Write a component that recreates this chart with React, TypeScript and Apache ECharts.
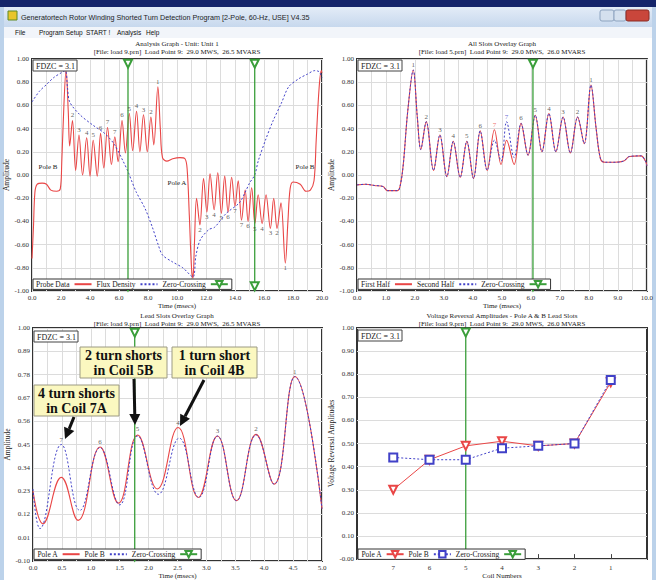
import React, { useEffect, useRef } from 'react';
import * as echarts from 'echarts';

const SERIF = '"Liberation Serif","Times New Roman",serif';
const SANS = '"Liberation Sans","Noto Sans",Arial,sans-serif';
const RED = '#e94646';
const BLUE = '#4141c8';
const GREEN = '#3a9e3a';
const GRIDC = '#dcdcdc';

// ---------- Top-left: Analysis Graph (time ms, amplitude) ----------
const tlProbeData: [number, number][] = [
  [0.0, -0.72], [0.1, -0.45], [0.2, -0.15], [0.35, -0.08], [0.7, -0.07], [1.0, -0.08], [1.3, -0.13],
  [1.7, -0.14], [1.95, -0.12], [2.05, 0.1], [2.2, 0.6], [2.35, 0.91], [2.5, 0.55], [2.6, 0.25],
  [2.79, 0.47], [3.01, 0.04], [3.24, 0.345], [3.49, 0.0], [3.77, 0.32], [4.0, -0.01], [4.22, 0.3],
  [4.5, -0.01], [4.73, 0.36], [4.95, 0.06], [5.21, 0.41], [5.48, 0.09], [5.71, 0.33], [5.94, 0.115],
  [6.21, 0.47], [6.44, 0.19], [6.71, 0.53], [6.94, 0.21], [7.21, 0.55], [7.44, 0.2], [7.69, 0.52],
  [7.95, 0.2], [8.2, 0.5], [8.4, 0.26], [8.68, 0.76], [8.85, 0.4], [9.0, 0.15], [9.3, 0.12],
  [9.7, 0.14], [10.2, 0.15], [10.55, 0.14], [10.7, 0.05], [10.85, -0.35], [11.0, -0.8], [11.1, -0.89],
  [11.2, -0.6], [11.35, -0.2], [11.58, -0.43], [11.83, -0.03], [12.06, -0.32], [12.28, 0.01],
  [12.56, -0.3], [12.81, 0.02], [13.06, -0.33], [13.29, -0.01], [13.52, -0.32], [13.77, -0.02],
  [14.0, -0.27], [14.22, -0.05], [14.45, -0.39], [14.7, -0.13], [14.9, -0.4], [15.15, -0.11],
  [15.37, -0.42], [15.6, -0.17], [15.87, -0.42], [16.14, -0.17], [16.44, -0.46], [16.67, -0.2],
  [16.9, -0.46], [17.17, -0.24], [17.47, -0.76], [17.65, -0.4], [17.8, -0.12], [18.0, -0.06],
  [18.5, -0.08], [18.9, -0.14], [19.2, -0.13], [19.45, -0.05], [19.6, 0.3], [19.8, 0.75],
  [19.95, 0.9], [20.0, 0.88],
];
const tlFluxDensity: [number, number][] = [
  [0.0, 0.63], [0.5, 0.72], [1.0, 0.78], [1.5, 0.84], [2.0, 0.88], [2.3, 0.9], [2.45, 0.75],
  [2.6, 0.63], [3.3, 0.52], [4.2, 0.43], [4.9, 0.37], [5.25, 0.33], [5.7, 0.26], [6.28, 0.12],
  [6.62, 0.03], [6.9, -0.06], [7.2, -0.15], [7.8, -0.29], [8.3, -0.45], [8.7, -0.6], [9.0, -0.69],
  [9.7, -0.75], [10.4, -0.8], [11.1, -0.88], [11.3, -0.7], [11.6, -0.56], [12.2, -0.47],
  [12.6, -0.45], [13.4, -0.33], [14.3, -0.24], [14.7, -0.15], [15.0, -0.07], [15.36, 0.0],
  [15.6, 0.12], [16.1, 0.3], [16.6, 0.46], [17.2, 0.62], [17.7, 0.76], [18.4, 0.83], [19.0, 0.87],
  [19.5, 0.9], [19.8, 0.89], [20.0, 0.84],
];
const tlZeroCrossings = [6.62, 15.36];
const tlPeakLabels: [number, number, string][] = [
  [2.79, 0.47, '2'], [3.24, 0.345, '3'], [3.77, 0.32, '4'], [4.22, 0.3, '5'], [4.73, 0.36, '6'],
  [5.21, 0.41, '7'], [5.71, 0.33, '7'], [6.21, 0.47, '6'], [6.71, 0.53, '5'], [7.21, 0.55, '4'],
  [7.69, 0.52, '3'], [8.2, 0.5, '2'], [8.68, 0.76, '1'],
];
const tlTroughLabels: [number, number, string][] = [
  [11.58, -0.43, '2'], [12.06, -0.32, '3'], [12.56, -0.3, '4'], [13.06, -0.33, '5'], [13.52, -0.32, '6'],
  [14.0, -0.27, '7'], [14.45, -0.39, '7'], [14.9, -0.4, '6'], [15.37, -0.42, '5'], [15.87, -0.42, '4'],
  [16.44, -0.46, '3'], [16.9, -0.46, '2'], [17.47, -0.76, '1'],
];

// ---------- Top-right: All Slots Overlay Graph ----------
const trFirstHalf: [number, number][] = [
  [0.0, -0.085], [0.3, -0.08], [0.6, -0.09], [0.9, -0.1], [1.05, -0.135], [1.4, -0.135], [1.5, -0.08],
  [1.6, 0.1], [1.75, 0.55], [1.94, 0.905], [2.08, 0.5], [2.2, 0.22], [2.39, 0.46], [2.64, 0.04],
  [2.86, 0.345], [3.1, -0.015], [3.32, 0.29], [3.56, -0.02], [3.79, 0.29], [4.02, -0.03], [4.25, 0.38],
  [4.49, 0.04], [4.74, 0.39], [4.97, 0.09], [5.16, 0.3], [5.42, 0.09], [5.66, 0.445], [5.9, 0.17],
  [6.15, 0.515], [6.38, 0.2], [6.62, 0.53], [6.86, 0.2], [7.11, 0.5], [7.36, 0.19], [7.61, 0.5],
  [7.84, 0.27], [8.07, 0.775], [8.25, 0.4], [8.4, 0.14], [8.55, 0.11], [8.9, 0.11], [9.2, 0.12],
  [9.4, 0.16], [9.8, 0.165], [9.95, 0.12], [10.0, 0.08],
];
const trSecondHalf: [number, number][] = [
  [0.0, -0.085], [0.3, -0.08], [0.6, -0.09], [0.9, -0.1], [1.05, -0.135], [1.4, -0.135], [1.5, -0.08],
  [1.6, 0.1], [1.75, 0.55], [1.94, 0.905], [2.08, 0.5], [2.2, 0.22], [2.39, 0.46], [2.64, 0.04],
  [2.86, 0.345], [3.1, -0.015], [3.32, 0.29], [3.56, -0.02], [3.79, 0.29], [4.02, -0.03], [4.25, 0.38],
  [4.49, 0.04], [4.74, 0.3], [4.97, 0.12], [5.16, 0.46], [5.42, 0.15], [5.66, 0.445], [5.9, 0.17],
  [6.15, 0.515], [6.38, 0.2], [6.62, 0.53], [6.86, 0.2], [7.11, 0.5], [7.36, 0.19], [7.61, 0.5],
  [7.84, 0.27], [8.07, 0.775], [8.25, 0.4], [8.4, 0.14], [8.55, 0.11], [8.9, 0.11], [9.2, 0.12],
  [9.4, 0.16], [9.8, 0.165], [9.95, 0.12], [10.0, 0.08],
];
const trZeroCrossings = [6.07];
const trPeakLabels: [number, number, string, string][] = [
  [1.94, 0.905, '1', '#333'], [2.39, 0.46, '2', '#333'], [2.86, 0.345, '3', '#333'], [3.32, 0.29, '4', '#333'],
  [3.79, 0.29, '5', '#333'], [4.25, 0.38, '6', '#333'], [4.74, 0.39, '7', RED], [5.16, 0.46, '7', BLUE],
  [5.66, 0.445, '6', '#333'], [6.15, 0.515, '5', '#333'], [6.62, 0.53, '4', '#333'], [7.11, 0.5, '3', '#333'],
  [7.61, 0.5, '2', '#333'], [8.07, 0.775, '1', '#333'],
];

// ---------- Bottom-left: Lead Slots Overlay Graph ----------
const blPoleA: [number, number][] = [
  [0.0, 0.23], [0.17, 0.076], [0.49, 0.295], [0.78, 0.092], [1.16, 0.438], [1.48, 0.173], [1.81, 0.495],
  [2.15, 0.24], [2.51, 0.53], [2.86, 0.2], [3.19, 0.49], [3.52, 0.185], [3.86, 0.498], [4.17, 0.263],
  [4.53, 0.771], [5.0, 0.147],
];
const blPoleB: [number, number][] = [
  [0.0, 0.24], [0.12, 0.053], [0.49, 0.45], [0.81, 0.139], [1.16, 0.435], [1.5, 0.165], [1.81, 0.49],
  [2.17, 0.215], [2.53, 0.48], [2.87, 0.2], [3.19, 0.49], [3.52, 0.185], [3.86, 0.495], [4.17, 0.263],
  [4.53, 0.77], [5.0, 0.147],
];
const blZeroCrossings = [1.76];
const blPeakLabels: [number, number, string][] = [
  [0.49, 0.45, '7'], [1.16, 0.44, '6'], [1.81, 0.5, '5'], [2.51, 0.53, '4'], [3.19, 0.49, '3'],
  [3.86, 0.5, '2'], [4.53, 0.77, '1'],
];
const blTickLabels = ['-0.10', '0.01', '0.12', '0.23', '0.34', '0.45', '0.56', '0.67', '0.78', '0.89', '1.00'];
const BL_MIN = -0.1;
const BL_STEP = 0.11;

// ---------- Bottom-right: Voltage Reversal Amplitudes ----------
const brCoils = [7, 6, 5, 4, 3, 2, 1];
const brPoleA = [0.3, 0.43, 0.49, 0.51, 0.49, 0.5, 0.765];
const brPoleB = [0.44, 0.43, 0.43, 0.48, 0.49, 0.5, 0.775];
const brZeroCrossings = [5];

const blMap = (v: number) => (v - BL_MIN) / BL_STEP;

function zeroCross(name: string, x: number, top: number, bot: number, inset: number, ai: number) {
  return {
    name, type: 'line', xAxisIndex: ai, yAxisIndex: ai, silent: true, z: 3,
    symbol: 'emptyTriangle', symbolSize: 8, symbolRotate: 180, showSymbol: true,
    lineStyle: { color: GREEN, width: 1.3 }, itemStyle: { color: GREEN, borderWidth: 1.2 },
    data: [
      { value: [x, top], symbol: 'none' }, { value: [x, top - inset] },
      { value: [x, bot + inset] }, { value: [x, bot], symbol: 'none' },
    ],
  };
}

function labels(pts: any[], ai: number, pos: string, mapY = (v: number) => v) {
  return {
    type: 'scatter', xAxisIndex: ai, yAxisIndex: ai, silent: true, symbolSize: 1, z: 4,
    itemStyle: { color: 'rgba(0,0,0,0)' },
    label: { show: true, position: pos, distance: 1, formatter: '{b}', fontSize: 7, fontFamily: SERIF, color: '#333' },
    data: pts.map((p) => ({ value: [p[0], mapY(p[1])], name: p[2], label: p[3] ? { color: p[3] } : undefined })),
  };
}

const HIDE_SYMBOL = { opacity: 0, color: 'rgba(0,0,0,0)', borderColor: 'rgba(0,0,0,0)', borderWidth: 0 };

function legend(prefix: string, items: [string, boolean][], left: number, top: number) {
  return {
    data: items.map(([n, sym]) => (sym ? { name: prefix + n } : { name: prefix + n, itemStyle: HIDE_SYMBOL })),
    left, top, orient: 'horizontal', align: 'right', selectedMode: false,
    formatter: (n: string) => n.slice(prefix.length),
    backgroundColor: '#fff', borderColor: '#333', borderWidth: 1, padding: [1, 3, 1, 3], itemGap: 4,
    itemWidth: 17, itemHeight: 8, textStyle: { fontFamily: SERIF, fontSize: 7.5, color: '#222' }, z: 6,
  };
}

function arrow(x1: number, y1: number, x2: number, y2: number) {
  const a = Math.atan2(y2 - y1, x2 - x1);
  const hl = 11, hw = 5.5;
  const bx = x2 - hl * Math.cos(a), by = y2 - hl * Math.sin(a);
  const px = -Math.sin(a) * hw, py = Math.cos(a) * hw;
  return [
    { type: 'line', z: 100, shape: { x1, y1, x2: bx, y2: by }, style: { stroke: '#111', lineWidth: 3 } },
    { type: 'polygon', z: 100, shape: { points: [[x2, y2], [bx + px, by + py], [bx - px, by - py]] }, style: { fill: '#111' } },
  ];
}

function note(x: number, y: number, w: number, h: number, text: string) {
  return [
    { type: 'rect', z: 100, shape: { x, y, width: w, height: h }, style: { fill: '#fbf8c0', stroke: '#9c9a84', lineWidth: 1 } },
    { type: 'text', z: 101, x: x + w / 2, y: y + h / 2, style: { text, fill: '#111', font: `bold 14px ${SERIF}`, align: 'center', verticalAlign: 'middle', lineHeight: 15 } },
  ];
}

function fdzc(x: number, y: number) {
  return [
    { type: 'rect', z: 100, shape: { x, y, width: 44, height: 11 }, style: { fill: '#fff', stroke: '#444', lineWidth: 1 } },
    { type: 'text', z: 101, x: x + 3, y: y + 6, style: { text: 'FDZC = 3.1', fill: '#222', font: `8px ${SERIF}`, verticalAlign: 'middle' } },
  ];
}

function ttext(x: number, y: number, text: string, size = 7, align = 'center', family = SERIF, fill = '#222') {
  return { type: 'text', z: 50, x, y, style: { text, fill, font: `${size}px ${family}`, align, verticalAlign: 'middle' } };
}

const axisLabelStyle = { fontSize: 7, fontFamily: SERIF, color: '#333' };
const splitStyle = { show: true, lineStyle: { color: GRIDC, width: 1 } };

function xAx(gi: number, min: number, max: number, interval: number, name: string, minor = true) {
  return {
    type: 'value', gridIndex: gi, min, max, interval,
    axisLine: { show: false }, axisTick: { show: false },
    axisLabel: { ...axisLabelStyle, margin: 3, formatter: (v: number) => v.toFixed(1) },
    splitLine: splitStyle, minorTick: { show: false, splitNumber: 2 }, minorSplitLine: { show: minor, lineStyle: { color: GRIDC } },
    name, nameLocation: 'middle', nameGap: 11, nameTextStyle: { fontSize: 7, fontFamily: SERIF, color: '#222' },
  };
}

function yAx(gi: number, min: number, max: number, interval: number, name: string, formatter: any, gap = 22) {
  return {
    type: 'value', gridIndex: gi, min, max, interval,
    axisLine: { show: false }, axisTick: { show: false },
    axisLabel: { ...axisLabelStyle, margin: 3, formatter },
    splitLine: splitStyle,
    name, nameLocation: 'middle', nameGap: gap, nameTextStyle: { fontSize: 7.5, fontFamily: SERIF, color: '#222' },
  };
}

const gridBase = { show: true, borderColor: '#333333', borderWidth: 2, backgroundColor: '#fff', containLabel: false };

export default function App() {
  const ref = useRef<HTMLDivElement>(null);
  useEffect(() => {
    document.body.style.margin = '0';
    const chart = echarts.init(ref.current!, null, { renderer: 'svg' });

    const chrome: any[] = [
      { type: 'rect', shape: { x: 0, y: 0, width: 656, height: 7 }, style: { fill: '#14246a' } },
      { type: 'rect', shape: { x: 0, y: 7, width: 656, height: 20 }, style: { fill: new echarts.graphic.LinearGradient(0, 0, 0, 1, [{ offset: 0, color: '#e3ecf7' }, { offset: 1, color: '#c7d8ed' }]) } },
      { type: 'rect', shape: { x: 0, y: 27, width: 656, height: 11 }, style: { fill: '#f2f5fa' } },
      { type: 'rect', shape: { x: 0, y: 7, width: 4, height: 573 }, style: { fill: '#bcd2ea' } },
      { type: 'rect', shape: { x: 652, y: 7, width: 4, height: 573 }, style: { fill: '#bcd2ea' } },
      { type: 'rect', shape: { x: 8, y: 11, width: 9, height: 9 }, style: { fill: '#e9c52a', stroke: '#5f8a22', lineWidth: 1 } },
      ttext(21, 17, 'Generatortech Rotor Winding Shorted Turn Detection Program [2-Pole, 60-Hz, USE] V4.35', 7.2, 'left', SANS, '#1e1e1e'),
      { type: 'rect', shape: { x: 600, y: 10, width: 14, height: 11, r: 2 }, style: { fill: '#d4e0ee', stroke: '#8ea4c0' } },
      { type: 'rect', shape: { x: 614, y: 10, width: 12, height: 11, r: 2 }, style: { fill: '#d4e0ee', stroke: '#8ea4c0' } },
      { type: 'rect', shape: { x: 626, y: 10, width: 23, height: 11, r: 2 }, style: { fill: '#c9463b', stroke: '#8c2a22' } },
      ttext(15, 32.5, 'File', 6.5, 'left', SANS, '#111'),
      ttext(39, 32.5, 'Program Setup', 6.5, 'left', SANS, '#111'),
      ttext(86, 32.5, 'START !', 6.5, 'left', SANS, '#111'),
      ttext(117, 32.5, 'Analysis', 6.5, 'left', SANS, '#111'),
      ttext(146, 32.5, 'Help', 6.5, 'left', SANS, '#111'),
    ];

    const overlay: any[] = [
      ttext(177, 44, 'Analysis Graph - Unit: Unit 1'),
      ttext(177, 52, '[File: load 9.prn]  Load Point 9:  29.0 MWS,  26.5 MVARS'),
      ttext(502, 44, 'All Slots Overlay Graph'),
      ttext(502, 52, '[File: load 5.prn]  Load Point 9:  29.0 MWS,  26.0 MVARS'),
      ttext(177, 315.5, 'Lead Slots Overlay Graph'),
      ttext(177, 323.5, '[File: load 9.prn]  Load Point 9:  29.0 MWS,  26.5 MVARS'),
      ttext(502, 315.5, 'Voltage Reversal Amplitudes - Pole A & B Lead Slots'),
      ttext(502, 323.5, '[File: load 9.prn]  Load Point 9:  29.0 MWS,  26.0 MVARS'),
      ...fdzc(33, 60), ...fdzc(358, 60), ...fdzc(34, 331), ...fdzc(358, 330),
      ttext(48, 167, 'Pole B', 7), ttext(177, 183, 'Pole A', 7), ttext(305, 167, 'Pole B', 7),
      ...note(80, 347, 87, 31, '2 turn shorts\nin Coil 5B'),
      ...note(172, 347, 85, 31, '1 turn short\nin Coil 4B'),
      ...note(34, 385, 85, 31, '4 turn shorts\nin Coil 7A'),
      ...arrow(134, 379, 135, 425),
      ...arrow(204, 380, 180, 426),
      ...arrow(74, 417, 65, 439),
    ];

    const option: any = {
      animation: false,
      backgroundColor: '#fff',
      textStyle: { fontFamily: SERIF },
      grid: [
        { ...gridBase, left: 32, top: 59, width: 290, height: 232 },
        { ...gridBase, left: 357, top: 59, width: 290, height: 232 },
        { ...gridBase, left: 33, top: 328, width: 289, height: 235 },
        { ...gridBase, left: 357, top: 328, width: 290, height: 235 },
      ],
      xAxis: [
        xAx(0, 0, 20, 2, 'Time (msecs)'),
        xAx(1, 0, 10, 1, 'Time (msecs)'),
        xAx(2, 0, 5, 0.5, 'Time (msecs)'),
        {
          type: 'value', gridIndex: 3, min: 0, max: 8, interval: 1, inverse: true,
          axisLine: { show: false },
          axisTick: { show: true, inside: true, length: 5, lineStyle: { color: '#444' } },
          axisLabel: { ...axisLabelStyle, margin: 5, formatter: (v: number) => (v >= 1 && v <= 7 ? String(v) : '') },
          splitLine: { show: false },
          name: 'Coil Numbers', nameLocation: 'middle', nameGap: 12, nameTextStyle: { fontSize: 7, fontFamily: SERIF, color: '#222' },
        },
      ],
      yAxis: [
        yAx(0, -1, 1, 0.2, 'Amplitude', (v: number) => v.toFixed(2)),
        yAx(1, -1, 1, 0.2, 'Amplitude', (v: number) => v.toFixed(2)),
        yAx(2, 0, 10, 1, 'Amplitude', (v: number) => blTickLabels[Math.round(v)]),
        yAx(3, 0, 1, 0.1, 'Voltage Reversal Amplitudes', (v: number) => (v === 0 ? '-0.00' : v.toFixed(2))),
      ],
      legend: [
        legend('tl:', [['Probe Data', false], ['Flux Density', false], ['Zero-Crossing', true]], 33, 279),
        legend('tr:', [['First Half', false], ['Second Half', false], ['Zero-Crossing', true]], 358, 279),
        legend('bl:', [['Pole A', false], ['Pole B', false], ['Zero-Crossing', true]], 34, 549),
        legend('br:', [['Pole A', true], ['Pole B', true], ['Zero-Crossing', true]], 358, 549),
      ],
      series: [
        // top-left
        { name: 'tl:Probe Data', type: 'line', xAxisIndex: 0, yAxisIndex: 0, data: tlProbeData, smooth: 0.35, symbol: 'none', lineStyle: { color: RED, width: 1.1 }, itemStyle: { color: RED } },
        { name: 'tl:Flux Density', type: 'line', xAxisIndex: 0, yAxisIndex: 0, data: tlFluxDensity, smooth: 0.3, symbol: 'none', lineStyle: { color: BLUE, width: 1, type: [2, 2] }, itemStyle: { color: BLUE } },
        ...tlZeroCrossings.map((x) => zeroCross('tl:Zero-Crossing', x, 1, -1, 0.04, 0)),
        labels(tlPeakLabels, 0, 'top'),
        labels(tlTroughLabels, 0, 'bottom'),
        // top-right
        { name: 'tr:First Half', type: 'line', xAxisIndex: 1, yAxisIndex: 1, data: trFirstHalf, smooth: 0.35, symbol: 'none', lineStyle: { color: RED, width: 1.1 }, itemStyle: { color: RED } },
        { name: 'tr:Second Half', type: 'line', xAxisIndex: 1, yAxisIndex: 1, data: trSecondHalf, smooth: 0.35, symbol: 'none', lineStyle: { color: BLUE, width: 1, type: [2, 2] }, itemStyle: { color: BLUE } },
        ...trZeroCrossings.map((x) => zeroCross('tr:Zero-Crossing', x, 1, -1, 0.04, 1)),
        labels(trPeakLabels, 1, 'top'),
        // bottom-left
        { name: 'bl:Pole A', type: 'line', xAxisIndex: 2, yAxisIndex: 2, data: blPoleA.map((p) => [p[0], blMap(p[1])]), smooth: 0.45, symbol: 'none', lineStyle: { color: RED, width: 1.1 }, itemStyle: { color: RED } },
        { name: 'bl:Pole B', type: 'line', xAxisIndex: 2, yAxisIndex: 2, data: blPoleB.map((p) => [p[0], blMap(p[1])]), smooth: 0.45, symbol: 'none', lineStyle: { color: BLUE, width: 1, type: [2, 2] }, itemStyle: { color: BLUE } },
        ...blZeroCrossings.map((x) => zeroCross('bl:Zero-Crossing', x, 10, 0, 0.2, 2)),
        labels(blPeakLabels, 2, 'top', blMap),
        // bottom-right
        { name: 'br:Pole A', type: 'line', xAxisIndex: 3, yAxisIndex: 3, data: brCoils.map((c, i) => [c, brPoleA[i]]), symbol: 'emptyTriangle', symbolRotate: 180, symbolSize: 8, lineStyle: { color: RED, width: 1 }, itemStyle: { color: RED, borderWidth: 1.2 } },
        { name: 'br:Pole B', type: 'line', xAxisIndex: 3, yAxisIndex: 3, data: brCoils.map((c, i) => [c, brPoleB[i]]), symbol: 'emptyRect', symbolSize: 8, lineStyle: { color: BLUE, width: 1, type: [2, 2] }, itemStyle: { color: BLUE, borderWidth: 1.2 } },
        ...brZeroCrossings.map((x) => zeroCross('br:Zero-Crossing', x, 1, 0, 0.02, 3)),
      ],
      graphic: { elements: [...chrome, ...overlay] },
    };
    chart.setOption(option);
    return () => chart.dispose();
  }, []);
  return <div ref={ref} style={{ width: 656, height: 580 }} />;
}
